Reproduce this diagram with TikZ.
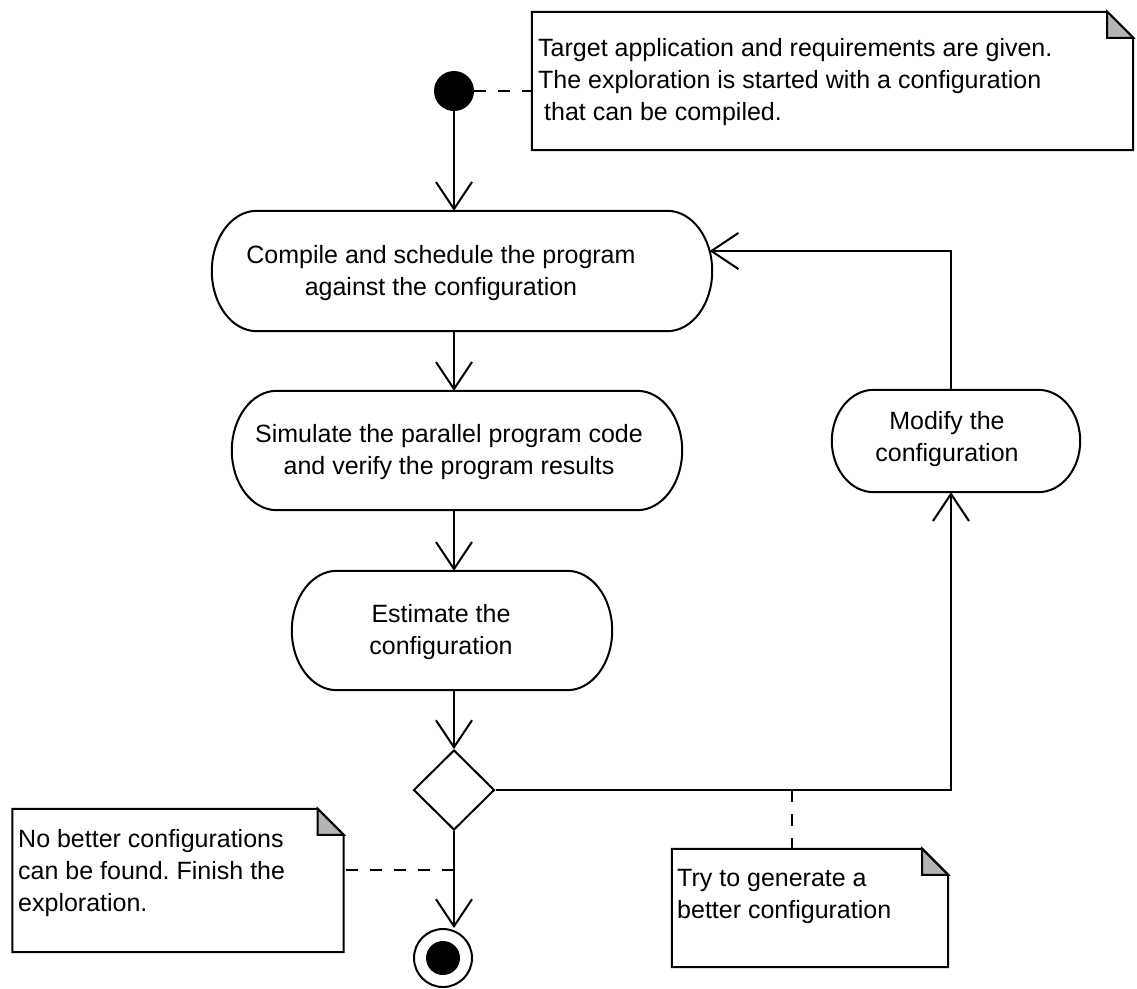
\documentclass[tikz,border=0pt]{standalone}
\usepackage{fontspec}
\setmainfont{Liberation Sans}
\usetikzlibrary{shapes.geometric,arrows.meta,calc}
\frenchspacing

\definecolor{foldgray}{HTML}{B4B4B4}

\tikzset{
  action/.style={inner sep=0pt},
  actline/.style={draw, line width=2pt, fill=white},
  acttext/.style={font=\fontsize{25pt}{32pt}\selectfont, align=center, inner sep=0pt},
  notetext/.style={font=\fontsize{25pt}{32pt}\selectfont, align=left, inner sep=0pt, anchor=north west},
  notebox/.style={inner sep=0pt},
  notepath/.style={draw, line width=2pt, line join=miter, fill=white},
  fold/.style={draw, line width=2pt, line join=miter, fill=foldgray},
  flow/.style={line width=2pt, -{Straight Barb[length=27pt, width=36pt, line width=2pt]}},
  dashline/.style={line width=2pt, dash pattern=on 12pt off 12pt},
}

% folded-corner note outline around a named node
\newcommand{\notepaper}[1]{%
  \draw[notepath] (#1.north west) -- ([xshift=-26pt]#1.north east) -- ([yshift=-26pt]#1.north east)
    -- (#1.south east) -- (#1.south west) -- cycle;
  \draw[fold] ([xshift=-26pt]#1.north east) -- ([xshift=-26pt,yshift=-26pt]#1.north east)
    -- ([yshift=-26pt]#1.north east) -- cycle;
}

% action outline: straight top and bottom, elliptical ends of horizontal radius #2
\newcommand{\actionoutline}[2]{%
  \draw[actline] let \p1=(#1.north), \p2=(#1.south), \n1={abs(\y1-\y2)/2} in
    ([xshift=#2]#1.north west) -- ([xshift=-#2]#1.north east)
    arc[start angle=90, end angle=-90, x radius=#2, y radius=\n1]
    -- ([xshift=#2]#1.south west)
    arc[start angle=270, end angle=90, x radius=#2, y radius=\n1]
    -- cycle;
}

\begin{document}
\begin{tikzpicture}[x=1pt, y=-1pt]
\useasboundingbox (0,0) rectangle (1137,988);
\fill[white] (0,0) rectangle (1137,988);

% initial node
\node[circle, fill=black, minimum size=40pt, inner sep=0pt] (s) at (454,91) {};

% notes
\node[notebox, minimum width=601pt, minimum height=138pt] (n1) at (832.5,81) {};
\notepaper{n1}
\node[notetext] (n1t) at (538,38) {Target application and requirements are given.\\The exploration is started with a configuration\\\hspace*{6pt}that can be compiled.};

\node[notebox, minimum width=331pt, minimum height=143pt] (n2) at (178,880.5) {};
\notepaper{n2}
\node[notetext] (n2t) at (18,829) {No better configurations\\can be found. Finish the\\exploration.};

\node[notebox, minimum width=276pt, minimum height=118pt] (n3) at (810,908) {};
\notepaper{n3}
\node[notetext] (n3t) at (677,869) {Try to generate a\\better configuration};

% actions
\node[action, minimum width=500pt, minimum height=120pt] (a1) at (462,271) {};
\actionoutline{a1}{45pt}
\node[acttext] (a1t) at (441,273) {Compile and schedule the program\\against the configuration};

\node[action, minimum width=450pt, minimum height=119pt] (a2) at (457,450.5) {};
\actionoutline{a2}{45pt}
\node[acttext] (a2t) at (449,452) {Simulate the parallel program code\\and verify the program results};

\node[action, minimum width=320pt, minimum height=119pt] (a3) at (452,630.5) {};
\actionoutline{a3}{45pt}
\node[acttext] (a3t) at (441,632) {Estimate the\\configuration};

\node[action, minimum width=248pt, minimum height=102pt] (m) at (956,441) {};
\actionoutline{m}{42pt}
\node[acttext] (mt) at (947,439) {Modify the\\configuration};

% decision
\node[diamond, draw, line width=2pt, inner sep=0pt, minimum width=81pt, minimum height=80pt] (d) at (454,790) {};

% final node
\node[circle, draw, line width=2pt, minimum size=58pt, inner sep=0pt] (e) at (443,958) {};
\node[circle, fill=black, minimum size=34pt, inner sep=0pt] (ein) at (e.center) {};

% control flow
\draw[flow] (s.south) -- (s.south |- a1.north);
\draw[flow] (s.south |- a1.south) -- (s.south |- a2.north);
\draw[flow] (s.south |- a2.south) -- (s.south |- a3.north);
\draw[flow] (s.south |- a3.south) -- (d.north);
\coordinate (mx) at ($(m.center)+(-5,0)$);
\draw[flow] (d.east) -| (mx |- m.south);
\coordinate (a1in) at ($(a1.east)+(-2.6,-20)$);
\draw[flow] (mx |- m.north) |- (a1in);
\coordinate (endin) at (d.south |- e.north);
\draw[flow] (d.south) -- (endin);

% note attachments
\draw[dashline] (s.east) -- (s.east -| n1.west);
\coordinate (j2) at ($(d.south)!0.4!(endin)$);
\draw[dashline] (j2) -- (j2 -| n2.east);
\coordinate (j3) at (792,790);
\draw[dashline] (j3) -- (j3 |- n3.north);
\end{tikzpicture}
\end{document}
